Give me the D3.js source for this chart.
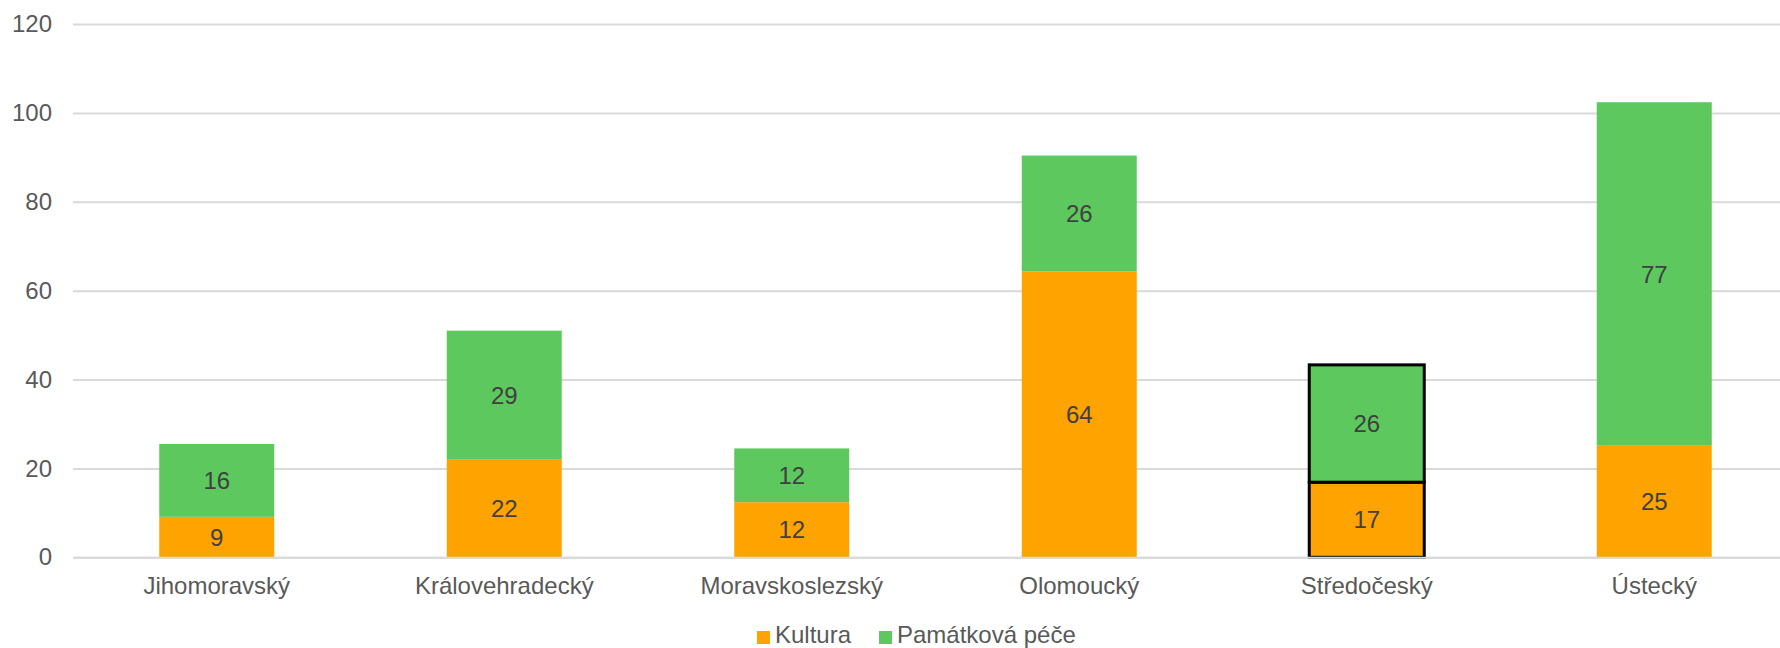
<!DOCTYPE html>
<meta charset="utf-8">
<script src="https://d3js.org/d3.v7.min.js"></script>
<style>
  body { margin: 0; background: #fff; }
  text { font-family: "Liberation Sans", Arial, sans-serif; }
</style>
<div id="chart"></div>
<script>

// data
var categories = ["Jihomoravský", "Královehradecký", "Moravskoslezský", "Olomoucký", "Středočeský", "Ústecký"];
var kultura    = [9.1, 22.1, 12.4, 64.3, 16.9, 25.1];
var pamatkova  = [16.4, 28.9, 12.1, 26.1, 26.4, 77.3];
var seriesNames = ["Kultura", "Památková péče"];
var yTicks = [0, 20, 40, 60, 80, 100, 120];
var highlighted = "Středočeský";

var colors = ["#ffa300", "#5cc85e"];

var width = 1780, height = 648;
var margin = {top: 24, left: 73, bottom: 91};

var svg = d3.select("#chart")
  .append("svg")
    .attr("width", width)
    .attr("height", height);

var x = d3.scaleBand()
  .domain(categories)
  .range([margin.left, 1798])
  .paddingInner(0.6)
  .paddingOuter(0.3);

var y = d3.scaleLinear()
  .domain([0, 120])
  .range([height - margin.bottom + 0.3, margin.top]);

// gridlines + y labels
var yAxis = svg.append("g")
  .attr("transform", "translate(" + margin.left + ",0)")
  .call(d3.axisLeft(y)
    .tickValues(yTicks)
    .tickSize(-(1798 - margin.left))
    .tickPadding(21));
yAxis.select(".domain").remove();
yAxis.selectAll(".tick line")
  .attr("stroke", "#d9d9d9")
  .attr("stroke-width", 2);
yAxis.selectAll(".tick text")
  .attr("fill", "#595959")
  .style("font-size", "24px");

// stack the two series
var rows = categories.map(function(c, i) {
  return {cat: c, "Kultura": kultura[i], "Památková péče": pamatkova[i]};
});
var stacked = d3.stack().keys(seriesNames)(rows);

var layers = svg.selectAll("g.layer")
  .data(stacked)
  .enter()
  .append("g")
    .attr("class", "layer")
    .attr("fill", function(d, i) { return colors[i]; });

layers.selectAll("rect")
  .data(function(d) { return d; })
  .enter()
  .append("rect")
    .attr("x", function(d) { return x(d.data.cat); })
    .attr("y", function(d) { return y(d[1]); })
    .attr("width", x.bandwidth())
    .attr("height", function(d) { return y(d[0]) - y(d[1]); })
    .attr("stroke", function(d) { return d.data.cat === highlighted ? "#000" : "none"; })
    .attr("stroke-width", 3);

// value labels
layers.selectAll("text")
  .data(function(d) { return d; })
  .enter()
  .append("text")
    .attr("x", function(d) { return x(d.data.cat) + x.bandwidth() / 2; })
    .attr("y", function(d) { return (y(d[0]) + y(d[1])) / 2; })
    .attr("dy", "0.36em")
    .attr("text-anchor", "middle")
    .attr("fill", "#404040")
    .style("font-size", "24px")
    .text(function(d) { return Math.round(d[1] - d[0]); });

// x axis
var xAxis = svg.append("g")
  .attr("transform", "translate(0," + y(0) + ")")
  .call(d3.axisBottom(x).tickSize(0).tickPadding(20));
xAxis.select(".domain")
  .attr("stroke", "#d9d9d9")
  .attr("stroke-width", 2);
xAxis.selectAll(".tick text")
  .attr("fill", "#595959")
  .style("font-size", "24px");

// legend
var legendX = [757, 879];
var legend = svg.selectAll("g.legend")
  .data(seriesNames)
  .enter()
  .append("g")
    .attr("class", "legend")
    .attr("transform", function(d, i) { return "translate(" + legendX[i] + ",631)"; });
legend.append("rect")
  .attr("width", 13)
  .attr("height", 13)
  .attr("fill", function(d, i) { return colors[i]; });
legend.append("text")
  .attr("x", 18)
  .attr("y", 12)
  .attr("fill", "#595959")
  .style("font-size", "24px")
  .text(function(d) { return d; });

</script>
